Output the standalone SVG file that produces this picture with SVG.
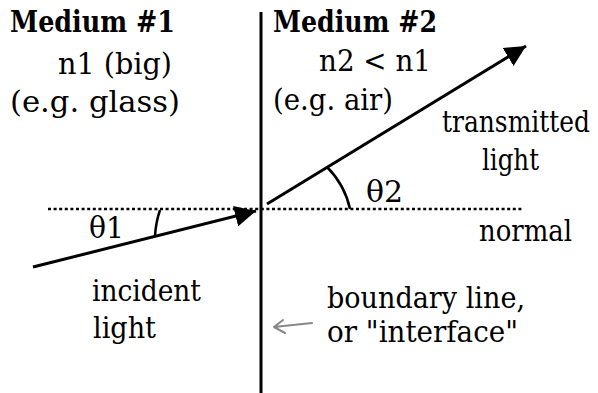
<svg xmlns="http://www.w3.org/2000/svg" width="598" height="393" viewBox="0 0 598 393">
<style>
.t{font-family:'DejaVu Serif',serif;font-size:29px;fill:#000}
.b{font-weight:bold}
.ln{stroke:#000;stroke-width:3;fill:none}
.thin{stroke:#000;stroke-width:2.5;fill:none}
.gray{stroke:#888;stroke-width:2;fill:none;stroke-linecap:round;stroke-linejoin:round}
</style>
<defs>
<marker id="ah" viewBox="0 0 10 10" refX="10" refY="5" markerWidth="7" markerHeight="7" orient="auto" markerUnits="strokeWidth">
<path d="M0,0 L10,5 L0,10 Z" fill="#000"/>
</marker>
</defs>
<rect width="598" height="393" fill="#fff"/>
<g id="connectors">
<line id="boundary" x1="261" y1="12" x2="261" y2="393" class="ln"/>
<line id="normal-line" x1="48" y1="209" x2="524" y2="209" stroke="#000" stroke-width="2.5" stroke-dasharray="3 2.6"/>
<line id="incident-ray" x1="33" y1="267" x2="256" y2="211" class="ln" marker-end="url(#ah)"/>
<line id="transmitted-ray" x1="267" y1="204" x2="526" y2="46" class="ln" marker-end="url(#ah)"/>
<path id="arc1" d="M160,210 A100,100 0 0 0 155,236" class="thin"/>
<path id="arc2" d="M327,167 A85,85 0 0 1 350,209" class="thin"/>
<path id="pointer" d="M312,323 L274,327 M283,320 L274,327 L285,333" class="gray"/>
</g>
<g id="medium1" class="t">
<text x="10" y="32" class="b" textLength="165" lengthAdjust="spacingAndGlyphs">Medium #1</text>
<text x="58" y="74" textLength="114" lengthAdjust="spacingAndGlyphs">n1 (big)</text>
<text x="10" y="112" textLength="170" lengthAdjust="spacingAndGlyphs">(e.g. glass)</text>
</g>
<g id="medium2" class="t">
<text x="273" y="32" class="b" textLength="164" lengthAdjust="spacingAndGlyphs">Medium #2</text>
<text x="319" y="71" textLength="112" lengthAdjust="spacingAndGlyphs">n2 &lt; n1</text>
<text x="273" y="110" textLength="120" lengthAdjust="spacingAndGlyphs">(e.g. air)</text>
</g>
<g id="theta1" class="t"><text x="89" y="238" textLength="35" lengthAdjust="spacingAndGlyphs">θ1</text></g>
<g id="theta2" class="t"><text x="366" y="202" textLength="37" lengthAdjust="spacingAndGlyphs">θ2</text></g>
<g id="transmitted-label" class="t">
<text transform="translate(442,132) scale(0.86,1)" x="0" y="0">transmitted</text>
<text x="482" y="170" textLength="57" lengthAdjust="spacingAndGlyphs">light</text>
</g>
<g id="normal-label" class="t"><text x="479" y="241" textLength="93" lengthAdjust="spacingAndGlyphs">normal</text></g>
<g id="incident-label" class="t">
<text x="92" y="301" textLength="109" lengthAdjust="spacingAndGlyphs">incident</text>
<text x="93" y="338" textLength="63" lengthAdjust="spacingAndGlyphs">light</text>
</g>
<g id="boundary-label" class="t">
<text x="327" y="308" textLength="198" lengthAdjust="spacingAndGlyphs">boundary line,</text>
<text x="327" y="342" textLength="191" lengthAdjust="spacingAndGlyphs">or "interface"</text>
</g>
</svg>
